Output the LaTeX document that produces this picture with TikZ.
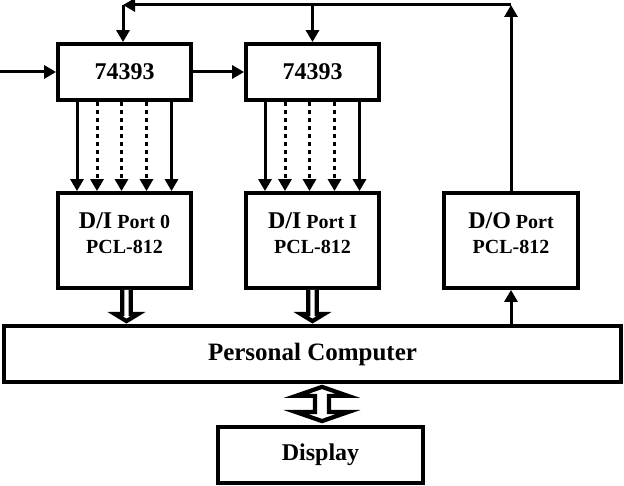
\documentclass[tikz,border=0pt]{standalone}
\usepackage{fontspec}
\setmainfont{Liberation Serif}
\usetikzlibrary{arrows.meta,calc}
\begin{document}
\begin{tikzpicture}[x=1pt,y=1pt,
  box/.style={draw,line width=3.8pt,fill=white,inner sep=0pt,font=\bfseries\fontsize{24}{28}\selectfont},
  lbl/.style={align=center,inner sep=0pt,font=\bfseries\fontsize{20}{25}\selectfont},
  arr/.style={line width=3pt,-{Triangle[length=12pt,width=13pt]}},
  dotarr/.style={line width=3pt,dash pattern=on 4pt off 4pt,-{Triangle[length=12pt,width=13pt]}},
  hollow/.style={draw,line width=4.2pt,fill=white,line join=miter}]
\useasboundingbox (0,0) rectangle (624,486);
% blocks
\node[box,minimum width=133pt,minimum height=56pt] (c1) at (124.5,414) {74393};
\node[box,minimum width=133pt,minimum height=56pt] (c2) at (312.5,414) {74393};
\node[box,minimum width=133pt,minimum height=95pt] (d0) at (124.5,245.5) {};
\node[box,minimum width=133pt,minimum height=95pt] (d1) at (312.5,245.5) {};
\node[box,minimum width=134pt,minimum height=95pt] (do) at (511,245.5) {};
\node[box,minimum width=617pt,minimum height=56pt,font=\bfseries\fontsize{25}{28}\selectfont] (pc) at (312.5,132) {Personal Computer};
\node[box,minimum width=205pt,minimum height=56pt] (disp) at (320.5,31) {Display};
% labels
\node[lbl] (d0t) at ($(d0.center)+(0,7)$) {{\fontsize{24}{25}\selectfont D/I} Port 0\\PCL-812};
\node[lbl] (d1t) at ($(d1.center)+(0,7)$) {{\fontsize{24}{25}\selectfont D/I} Port I\\PCL-812};
\node[lbl] (dot) at ($(do.center)+(0,7)$) {{\fontsize{24}{25}\selectfont D/O} Port\\PCL-812};
% input and cascade
\coordinate (in) at (0,414);
\draw[arr] (in) -- (c1.west);
\draw[arr] (c1.east) -- (c2.west);
% counter outputs
\foreach \bs/\bt in {c1/d0,c2/d1}{
  \draw[arr] ([xshift=-47.5pt]\bs.south) -- ([xshift=-47.5pt]\bt.north);
  \draw[dotarr] ([xshift=-27.5pt]\bs.south) -- ([xshift=-27.5pt]\bt.north);
  \draw[dotarr] ([xshift=-3pt]\bs.south) -- ([xshift=-3pt]\bt.north);
  \draw[dotarr] ([xshift=22pt]\bs.south) -- ([xshift=22pt]\bt.north);
  \draw[arr] ([xshift=47pt]\bs.south) -- ([xshift=47pt]\bt.north);
}
% feedback loop
\coordinate (fbR) at (511,481);
\coordinate (fbL) at (123,481);
\draw[arr] (do.north) -- (fbR);
\draw[arr] (fbR) -- (fbL);
\draw[arr] (fbL) -- (c1.north -| fbL);
\draw[arr] (c2.north |- fbR) -- (c2.north);
% PC to D/O
\draw[arr] (pc.north -| do.south) -- (do.south);
% hollow bus arrows D/I -> PC
\foreach \bs/\ox in {d0/2,d1/0}{
  \draw[hollow] let \p1=(\bs.south), \p2=(pc.north) in
    (\x1+\ox pt-4.3pt,\y1) -- (\x1+\ox pt-4.3pt,\y2+10pt) -- (\x1+\ox pt-11.5pt,\y2+10pt)
    -- (\x1+\ox pt,\y2+3pt) -- (\x1+\ox pt+11.5pt,\y2+10pt) -- (\x1+\ox pt+4.3pt,\y2+10pt)
    -- (\x1+\ox pt+4.3pt,\y1);
}
% double arrow PC <-> Display
\draw[hollow] let \p1=($(disp.north)+(1.5,0)$), \p2=(pc.south) in
  (\x1,\y2-3pt) -- (\x1+26pt,\y2-12pt) -- (\x1+7pt,\y2-12pt) -- (\x1+7pt,\y1+13pt)
  -- (\x1+26pt,\y1+13pt) -- (\x1,\y1+4pt) -- (\x1-26pt,\y1+13pt) -- (\x1-7pt,\y1+13pt)
  -- (\x1-7pt,\y2-12pt) -- (\x1-26pt,\y2-12pt) -- cycle;
\end{tikzpicture}
\end{document}
